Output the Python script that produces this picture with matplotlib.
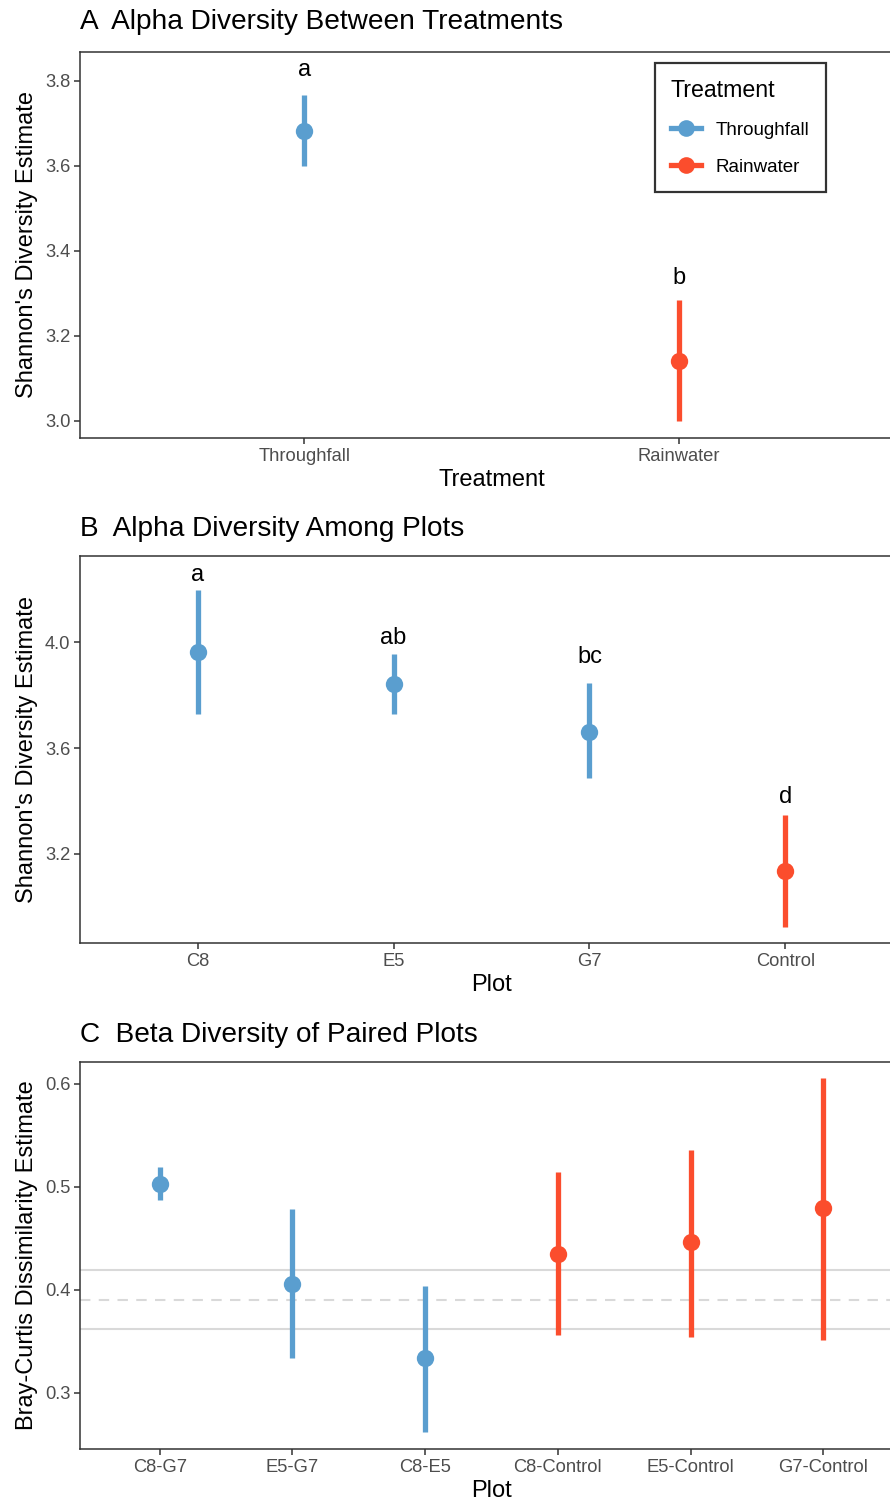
import matplotlib
matplotlib.use("Agg")
import matplotlib.pyplot as plt
from matplotlib.lines import Line2D

plt.rcParams['font.family'] = ['Liberation Sans', 'DejaVu Sans']

BLUE = '#5A9ECF'
RED = '#FB4D2D'
DARK = '#333333'
TICK_GREY = '#4D4D4D'

# panel A: treatments
treat_names = ['Throughfall', 'Rainwater']
treat_est = [3.682, 3.141]
treat_lo = [3.600, 3.000]
treat_hi = [3.767, 3.284]
treat_letters = ['a', 'b']
treat_letter_y = [3.826, 3.336]

# panel B: plots
plot_names = ['C8', 'E5', 'G7', 'Control']
plot_est = [3.962, 3.842, 3.662, 3.136]
plot_lo = [3.728, 3.728, 3.487, 2.924]
plot_hi = [4.196, 3.955, 3.845, 3.348]
plot_group = ['Throughfall', 'Throughfall', 'Throughfall', 'Rainwater']
plot_letters = ['a', 'ab', 'bc', 'd']
plot_letter_y = [4.253, 4.015, 3.943, 3.415]

# panel C: paired plots
pair_names = ['C8-G7', 'E5-G7', 'C8-E5', 'C8-Control', 'E5-Control', 'G7-Control']
pair_est = [0.503, 0.406, 0.334, 0.435, 0.446, 0.479]
pair_lo = [0.487, 0.334, 0.262, 0.356, 0.354, 0.351]
pair_hi = [0.519, 0.478, 0.404, 0.514, 0.536, 0.605]
pair_group = ['Throughfall'] * 3 + ['Rainwater'] * 3
ref_band = [0.362, 0.419]
ref_mid = 0.390

colors = {'Throughfall': BLUE, 'Rainwater': RED}


def style_axes(ax, n, ylim, yticks, ylabel, xlabel, names):
    ax.set_xlim(-0.6, n - 0.4)
    ax.set_ylim(*ylim)
    ax.set_yticks(yticks)
    ax.set_xticks(range(n))
    ax.set_xticklabels(names)
    for s in ax.spines.values():
        s.set_color(DARK)
        s.set_linewidth(1.1)
    ax.tick_params(colors=DARK, labelcolor=TICK_GREY, labelsize=13.2, length=4, width=1.1, pad=3)
    ax.set_ylabel(ylabel, fontsize=17, labelpad=5)
    ax.set_xlabel(xlabel, fontsize=17, labelpad=3)


def draw_points(ax, est, lo, hi, groups):
    for i in range(len(est)):
        c = colors[groups[i]]
        ax.plot([i, i], [lo[i], hi[i]], color=c, lw=3.8, solid_capstyle='butt', zorder=3)
        ax.plot(i, est[i], 'o', color=c, ms=12.5, mec='none', zorder=4)


fig = plt.figure(figsize=(8.9, 15.05), dpi=100)
W, H = 890, 1505


def add_ax(top, bottom):
    return fig.add_axes([80 / W, 1 - bottom / H, 823 / W, (bottom - top) / H])


# A
axA = add_ax(52, 438)
draw_points(axA, treat_est, treat_lo, treat_hi, treat_names)
for i, t in enumerate(treat_letters):
    axA.text(i, treat_letter_y[i], t, ha='center', va='center', fontsize=17)
style_axes(axA, 2, (2.96, 3.868), [3.0, 3.2, 3.4, 3.6, 3.8],
           "Shannon's Diversity Estimate", 'Treatment', treat_names)
handles = [Line2D([0], [0], color=colors[k], lw=3.8, marker='o', ms=12, mec='none') for k in treat_names]
leg = axA.legend(handles, treat_names, title='Treatment', loc='upper left',
                 bbox_to_anchor=((655 - 80) / 823, 1 - (63 - 52) / 386),
                 fontsize=13.5, title_fontsize=16.7, frameon=True, fancybox=False,
                 handlelength=1.6, borderpad=0.85, labelspacing=1.05, handletextpad=0.8,
                 borderaxespad=0)
leg.get_frame().set_edgecolor('black')
leg.get_frame().set_linewidth(1.6)
leg._legend_box.align = 'left'

# B
axB = add_ax(556, 943)
draw_points(axB, plot_est, plot_lo, plot_hi, plot_group)
for i, t in enumerate(plot_letters):
    axB.text(i, plot_letter_y[i], t, ha='center', va='center', fontsize=17)
style_axes(axB, 4, (2.864, 4.325), [3.2, 3.6, 4.0],
           "Shannon's Diversity Estimate", 'Plot', plot_names)

# C
axC = add_ax(1062, 1449)
for y in ref_band:
    axC.axhline(y, color='#D9D9D9', lw=1.5, zorder=1)
axC.axhline(ref_mid, color='#D9D9D9', lw=1.5, ls=(0, (5, 4)), zorder=1)
draw_points(axC, pair_est, pair_lo, pair_hi, pair_group)
style_axes(axC, 6, (0.2456, 0.621), [0.3, 0.4, 0.5, 0.6],
           'Bray-Curtis Dissimilarity Estimate', 'Plot', pair_names)

# panel titles
for ytop, txt in [(22, 'A  Alpha Diversity Between Treatments'),
                  (529, 'B  Alpha Diversity Among Plots'),
                  (1035, 'C  Beta Diversity of Paired Plots')]:
    fig.text(80 / W, 1 - ytop / H, txt, ha='left', va='center', fontsize=20.2)

fig.savefig('out.png', dpi=100)
